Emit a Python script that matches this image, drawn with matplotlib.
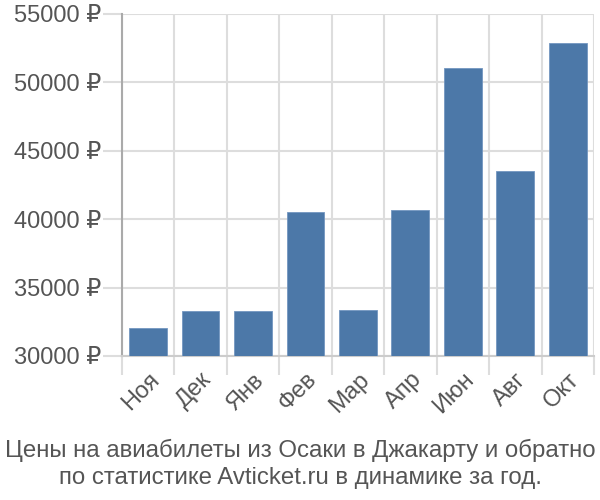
import numpy as np
import matplotlib
matplotlib.use('Agg')
import matplotlib.pyplot as plt

plt.rcParams['font.family'] = ['Liberation Sans', 'DejaVu Sans']

months = ['Ноя', 'Дек', 'Янв', 'Фев', 'Мар', 'Апр', 'Июн', 'Авг', 'Окт']
prices = [32050, 33290, 33290, 40520, 33360, 40670, 51050, 43520, 52880]
yticks = [30000, 35000, 40000, 45000, 50000, 55000]
title = 'Цены на авиабилеты из Осаки в Джакарту и обратно\nпо статистике Avticket.ru в динамике за год.'

fig = plt.figure(figsize=(6, 5), dpi=100)
ax = fig.add_axes([0.203, 0.288, 0.787, 0.684])

x = np.arange(len(months))
ax.bar(x, np.array(prices) - 30000, bottom=30000, width=0.72, color='#4c78a8',
       edgecolor='#7396c0', linewidth=0.6, zorder=3)

ax.set_xlim(-0.5, len(months) - 0.5)
ax.set_ylim(30000, 55000)

ax.set_yticks(yticks)
ax.set_yticklabels(['{} ₽'.format(v) for v in yticks])
ax.set_xticks(x)
ax.set_xticklabels(months, rotation=45, ha='right', rotation_mode='anchor')
ax.set_xticks(np.arange(-0.5, len(months)), minor=True)

ax.tick_params(axis='x', which='major', length=0, pad=9, labelsize=17, labelcolor='#555555')
ax.tick_params(axis='x', which='minor', length=14, color='#dddddd', width=1.5)
ax.tick_params(axis='y', length=14, color='#dddddd', width=1.5, labelsize=17,
               labelcolor='#555555', pad=1)

ax.grid(True, which='minor', axis='x', color='#dddddd', linewidth=1.5, zorder=0)
ax.grid(True, which='major', axis='y', color='#dddddd', linewidth=1.5, zorder=0)

for s in ['top', 'right']:
    ax.spines[s].set_visible(False)
ax.spines['left'].set_color('#aaaaaa')
ax.spines['left'].set_linewidth(1.5)
ax.spines['bottom'].set_color('#cccccc')
ax.spines['bottom'].set_linewidth(1.5)

fig.text(0.5, 0.022, title, ha='center', va='bottom', fontsize=17.3,
         color='#555555', linespacing=1.3)

fig.savefig('out.png', dpi=100)
